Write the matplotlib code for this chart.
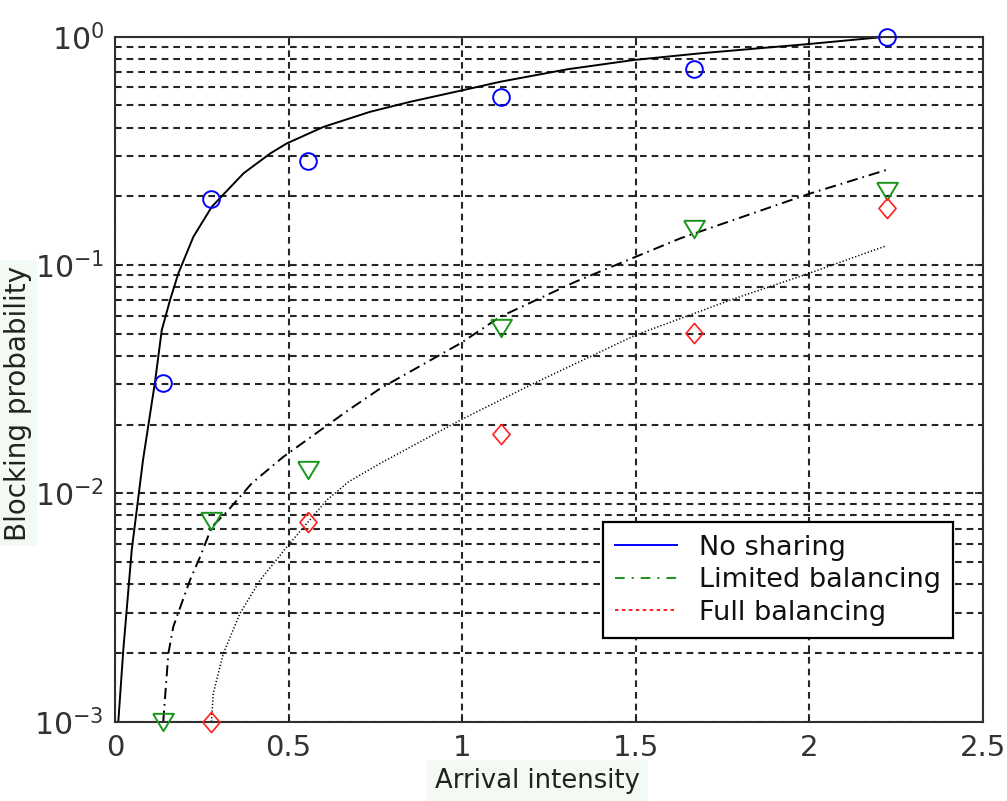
import matplotlib
matplotlib.use('Agg')
import matplotlib.pyplot as plt
from matplotlib.lines import Line2D

# ---------------- data ----------------
# simulation points
x_sim = [0.1389, 0.2778, 0.5556, 1.1111, 1.6667, 2.2222]
sim_no_sharing = [0.0303, 0.195, 0.2855, 0.546, 0.722, 1.0]
sim_limited = [0.001, 0.0076, 0.0127, 0.0532, 0.1435, 0.211]
x_sim_full = [0.2778, 0.5556, 1.1111, 1.6667, 2.2222]
sim_full = [0.001, 0.0075, 0.0182, 0.0504, 0.177]

# analytical curves
x_curve_no = [0.0095, 0.0239, 0.0482, 0.0807, 0.1153, 0.1347, 0.1586, 0.1825,
              0.2258, 0.2788, 0.370, 0.447, 0.495, 0.601, 0.735, 0.851, 0.995,
              1.110, 1.303, 1.495, 1.687, 1.999, 2.222]
y_curve_no = [0.001, 0.00206, 0.00565, 0.014, 0.0308, 0.0519, 0.0703, 0.092,
              0.133, 0.180, 0.252, 0.308, 0.341, 0.403, 0.469, 0.519, 0.580,
              0.635, 0.720, 0.791, 0.846, 0.929, 1.0]

x_curve_lim = [0.1389, 0.1537, 0.168, 0.192, 0.216, 0.245, 0.279, 0.322, 0.394,
               0.485, 0.673, 0.764, 0.995, 1.110, 1.326, 1.629, 1.999, 2.222]
y_curve_lim = [0.001, 0.00199, 0.00261, 0.0033, 0.00417, 0.00527, 0.00714,
               0.0083, 0.01107, 0.01446, 0.0232, 0.0288, 0.0454, 0.0594, 0.0845,
               0.131, 0.205, 0.261]

x_curve_full = [0.2778, 0.283, 0.312, 0.360, 0.418, 0.495, 0.553, 0.610, 0.673,
                0.764, 0.995, 1.206, 1.499, 1.773, 1.999, 2.222]
y_curve_full = [0.001, 0.00133, 0.00199, 0.00298, 0.00417, 0.00583, 0.0074,
                0.00935, 0.01125, 0.01353, 0.02095, 0.0303, 0.0493, 0.0703,
                0.092, 0.1215]

x_ticks = [0, 0.5, 1, 1.5, 2, 2.5]
x_tick_labels = ['0', '0.5', '1', '1.5', '2', '2.5']
y_ticks = [1e-3, 1e-2, 1e-1, 1e0]

legend_labels = ['No sharing', 'Limited balancing', 'Full balancing']
xlabel_text = 'Arrival intensity'
ylabel_text = 'Blocking probability'

# ---------------- style ----------------
plt.rcParams['font.family'] = ['DejaVu Sans']
plt.rcParams['lines.scale_dashes'] = False
plt.rcParams['axes.unicode_minus'] = False

fig = plt.figure(figsize=(10.07, 8.01), dpi=100)
ax = fig.add_axes([115 / 1007, 1 - 721.7 / 801, 868 / 1007, 685 / 801])

ax.set_yscale('log')
ax.set_xlim(0, 2.5)
ax.set_ylim(1e-3, 1)

grid_kw = dict(color='#262626', linewidth=1.5, linestyle=(0, (4.8, 3.6)))
ax.grid(True, which='major', axis='both', **grid_kw)
ax.grid(True, which='minor', axis='y', **grid_kw)
ax.set_axisbelow(True)

# curves (black)
ax.plot(x_curve_no, y_curve_no, color='black', lw=1.4, linestyle='-')
ax.plot(x_curve_lim, y_curve_lim, color='black', lw=1.4,
        linestyle=(0, (8, 3.6, 1.2, 3.6)))
ax.plot(x_curve_full, y_curve_full, color='black', lw=1.1,
        linestyle=(0, (0.9, 1.5)))

tri = [(-0.6, 0.5), (0.6, 0.5), (0.0, -0.5), (-0.6, 0.5)]
dia = [(0.0, 0.5), (0.425, 0.0), (0.0, -0.5), (-0.425, 0.0), (0.0, 0.5)]

ax.plot(x_sim, sim_no_sharing, linestyle='none', marker='o', ms=12,
        mfc='none', mec='#0000ff', mew=1.4, clip_on=False, zorder=5)
ax.plot(x_sim, sim_limited, linestyle='none', marker=tri, ms=15,
        mfc='none', mec='#1a961a', mew=1.4, clip_on=False, zorder=5)
ax.plot(x_sim_full, sim_full, linestyle='none', marker=dia, ms=14.5,
        mfc='none', mec='#ff2020', mew=1.2, clip_on=False, zorder=5)

ax.set_xticks(x_ticks)
ax.set_xticklabels(x_tick_labels)
ax.set_yticks(y_ticks)

ax.tick_params(which='both', direction='in', top=True, right=True,
               color='#202020', width=1.2)
ax.tick_params(which='major', length=6, labelcolor='#333333')
ax.tick_params(axis='x', which='major', labelsize=21, pad=9)
ax.tick_params(axis='y', which='major', labelsize=21.5, pad=8)
ax.tick_params(which='minor', length=3.5)

for s in ax.spines.values():
    s.set_linewidth(1.5)
    s.set_color('#303030')

# labels
ax.set_xlabel(xlabel_text, fontsize=18.6, color='#222222',
              bbox=dict(facecolor='#f3f9f3', edgecolor='none', pad=6))
ax.xaxis.set_label_coords(0.487, -0.068)
ax.set_ylabel(ylabel_text, fontsize=20, color='#222222',
              bbox=dict(facecolor='#f3f9f3', edgecolor='none', pad=4))
ax.yaxis.set_label_coords(-0.096, 0.465)

handles = [Line2D([], [], color='#0000ff', lw=1.4, linestyle='-'),
           Line2D([], [], color='#1a961a', lw=1.4, linestyle=(0, (7, 5, 1.5, 5))),
           Line2D([], [], color='#ff2020', lw=1.4, linestyle=(0, (2.5, 2.5)))]
leg = ax.legend(handles, legend_labels, loc='lower right',
                bbox_to_anchor=(0.9654, 0.1226), borderaxespad=0,
                fontsize=19.5, frameon=True, fancybox=False, framealpha=1,
                edgecolor='black', borderpad=0.45, labelspacing=0.24,
                handlelength=2.3, handletextpad=0.8)
leg.get_frame().set_linewidth(1.6)
for t in leg.get_texts():
    t.set_color('#111111')

fig.savefig('out.png', dpi=100, facecolor='white')
